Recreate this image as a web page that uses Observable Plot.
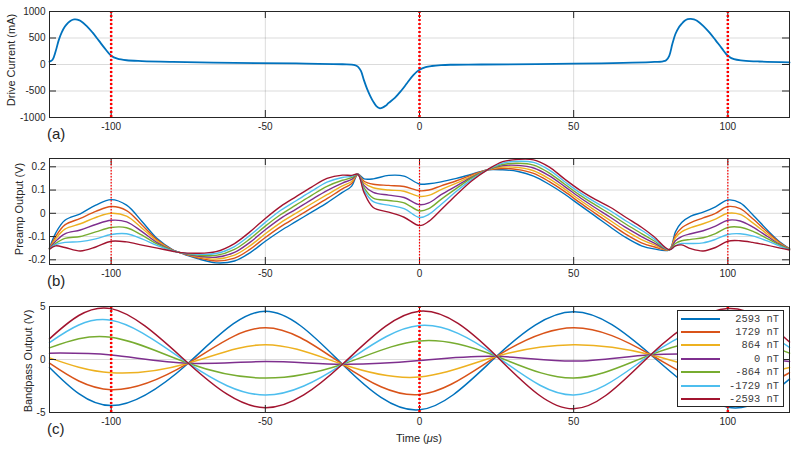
<!DOCTYPE html>
<html><head><meta charset="utf-8">
<script src="https://cdn.jsdelivr.net/npm/d3@7"></script>
<script src="https://cdn.jsdelivr.net/npm/@observablehq/plot@0.6"></script>
<style>
body{margin:0;background:#fff;}
#root{position:relative;width:798px;height:451px;overflow:hidden;background:#fff;font-family:"Liberation Sans",Arial,sans-serif;color:#262626;}
.panel{position:absolute;left:0;}
.ylab{position:absolute;font-size:11px;line-height:1;white-space:nowrap;transform:translate(-50%,-50%) rotate(-90deg);}
.plabel{position:absolute;font-size:15px;line-height:1;transform:translate(0,-50%);}
#xlab{position:absolute;left:419px;top:438px;font-size:11px;line-height:1;white-space:nowrap;transform:translate(-50%,-50%);}
#legend{position:absolute;left:677px;top:310px;width:105px;height:95px;border:1px solid #262626;background:#fff;}
.lrow-line{position:absolute;left:3px;width:39px;height:2px;}
.lrow-text{position:absolute;right:4px;font-family:"Liberation Mono","Courier New",monospace;font-size:10.4px;line-height:12px;color:#404040;white-space:pre;}
</style></head>
<body><div id="root"></div>
<script>
// ---------- shared ----------
const seriesLabels = ["2593 nT", "1729 nT", "864 nT", "0 nT", "-864 nT", "-1729 nT", "-2593 nT"];
const seriesColors = ["#0072BD", "#D95319", "#EDB120", "#7E2F8E", "#77AC30", "#4DBEEE", "#A2142F"];
const xTicks = [-100, -50, 0, 50, 100];
const markerTimes = [-100, 0, 100];

// ---------- panel (a): drive current (mA) ----------
const timeA = [-120,-119,-118,-117,-116,-115,-114,-113,-112,-111,-110,-108,-106,-104,-102,-100,-98,-95,-90,-80,-60,-40,-25,-21,-20,-19,-18,-17,-16,-15,-14,-13,-12,-11,-10,-8,-6,-4,-2,0,2,4,7,10,20,50,75,79,80,81,82,83,84,85,86,87,88,89,90,92,94,96,98,100,102,105,110,120];
const currentA = [55,90,250,460,610,715,785,830,850,848,825,730,600,450,300,165,110,80,65,50,30,20,5,-10,-40,-120,-300,-460,-590,-700,-785,-825,-815,-780,-725,-630,-500,-350,-200,-100,-50,-28,-12,-5,0,15,45,60,80,165,385,575,690,765,825,855,860,850,825,730,605,460,310,165,100,75,57,40];
const yTicksA = [-1000, -500, 0, 500, 1000];

// ---------- panel (b): preamp output (V) ----------
const timeB = [-120,-118,-115,-110,-105,-100,-95,-90,-85,-80,-78,-72,-66,-60,-55,-50,-45,-40,-35,-30,-25,-22,-20,-18,-15,-10,-5,0,3,7,12,17,22,27,32,37,42,47,52,57,62,67,72,76,81,83,85,88,92,96,100,104,108,113,117,120];
const preamp2593 = [-0.150,-0.085,-0.030,-0.002,0.035,0.059,0.035,-0.035,-0.110,-0.157,-0.168,-0.195,-0.213,-0.205,-0.170,-0.120,-0.075,-0.035,0.005,0.045,0.090,0.117,0.168,0.148,0.148,0.163,0.160,0.126,0.127,0.135,0.150,0.168,0.187,0.187,0.180,0.160,0.125,0.083,0.035,-0.012,-0.060,-0.105,-0.140,-0.153,-0.157,-0.080,-0.040,-0.012,0.005,0.028,0.057,0.045,-0.005,-0.075,-0.125,-0.152];
const preamp1729 = [-0.151,-0.100,-0.050,-0.022,0.008,0.029,0.012,-0.050,-0.115,-0.158,-0.168,-0.191,-0.205,-0.193,-0.155,-0.104,-0.057,-0.017,0.023,0.063,0.105,0.128,0.168,0.138,0.125,0.120,0.115,0.097,0.100,0.118,0.140,0.165,0.187,0.193,0.188,0.172,0.137,0.094,0.046,0.000,-0.046,-0.091,-0.127,-0.144,-0.157,-0.095,-0.063,-0.040,-0.020,0.000,0.029,0.020,-0.022,-0.083,-0.128,-0.153];
const preamp864 = [-0.152,-0.110,-0.068,-0.045,-0.018,0.000,-0.012,-0.064,-0.121,-0.159,-0.168,-0.187,-0.197,-0.180,-0.140,-0.088,-0.040,0.001,0.041,0.080,0.118,0.137,0.168,0.130,0.110,0.100,0.095,0.073,0.077,0.102,0.130,0.160,0.187,0.199,0.197,0.183,0.149,0.105,0.057,0.012,-0.032,-0.076,-0.113,-0.135,-0.157,-0.105,-0.080,-0.062,-0.045,-0.025,0.000,-0.005,-0.040,-0.092,-0.131,-0.154];
const preamp0 = [-0.152,-0.120,-0.088,-0.072,-0.048,-0.030,-0.037,-0.079,-0.127,-0.160,-0.168,-0.184,-0.189,-0.168,-0.125,-0.071,-0.022,0.018,0.059,0.098,0.130,0.146,0.168,0.120,0.090,0.078,0.068,0.037,0.045,0.080,0.118,0.156,0.187,0.205,0.206,0.195,0.162,0.116,0.068,0.024,-0.018,-0.062,-0.100,-0.127,-0.157,-0.118,-0.100,-0.088,-0.075,-0.055,-0.030,-0.033,-0.058,-0.101,-0.135,-0.155];
const preampM864 = [-0.153,-0.130,-0.108,-0.100,-0.080,-0.061,-0.062,-0.094,-0.133,-0.161,-0.168,-0.180,-0.181,-0.155,-0.110,-0.055,-0.005,0.036,0.077,0.116,0.142,0.153,0.168,0.110,0.065,0.055,0.045,0.010,0.020,0.060,0.107,0.152,0.187,0.210,0.215,0.207,0.174,0.126,0.078,0.036,-0.004,-0.047,-0.087,-0.118,-0.157,-0.130,-0.118,-0.112,-0.105,-0.087,-0.061,-0.060,-0.077,-0.110,-0.138,-0.156];
const preampM1729 = [-0.153,-0.135,-0.125,-0.122,-0.110,-0.091,-0.088,-0.110,-0.139,-0.162,-0.168,-0.176,-0.173,-0.143,-0.095,-0.039,0.013,0.054,0.095,0.134,0.154,0.159,0.168,0.100,0.050,0.035,0.020,-0.018,-0.005,0.038,0.095,0.146,0.187,0.216,0.224,0.219,0.187,0.137,0.089,0.048,0.010,-0.033,-0.073,-0.109,-0.157,-0.140,-0.130,-0.130,-0.127,-0.112,-0.091,-0.088,-0.097,-0.120,-0.142,-0.157];
const preampM2593 = [-0.154,-0.140,-0.147,-0.162,-0.145,-0.120,-0.123,-0.137,-0.150,-0.163,-0.168,-0.172,-0.165,-0.130,-0.080,-0.022,0.030,0.072,0.113,0.150,0.164,0.163,0.168,0.090,0.025,0.005,-0.017,-0.053,-0.035,0.015,0.080,0.140,0.187,0.222,0.232,0.230,0.200,0.148,0.100,0.060,0.025,-0.018,-0.060,-0.100,-0.157,-0.140,-0.136,-0.152,-0.162,-0.147,-0.120,-0.118,-0.125,-0.138,-0.150,-0.158];
const yTicksB = [-0.2, -0.1, 0, 0.1, 0.2];

// ---------- panel (c): bandpass output (V) ----------
const timeC = [-120, -100, -75, -50, -25, 0, 25, 50, 75, 100, 120];
const band2593 = [-0.75, -4.35, -0.35, 4.55, -0.45, -4.75, 0.30, 4.50, 0.45, -4.50, -1.85];
const band1729 = [-0.35, -2.85, -0.35, 3.00, -0.45, -3.30, 0.30, 3.00, 0.45, -2.95, -1.25];
const band864 = [0.15, -1.25, -0.35, 1.40, -0.45, -1.65, 0.30, 1.40, 0.45, -1.35, -0.75];
const band0 = [0.60, 0.42, -0.35, -0.20, -0.45, -0.10, 0.30, -0.15, 0.45, 0.35, -0.20];
const bandM864 = [1.10, 2.10, -0.35, -1.75, -0.45, 1.75, 0.30, -1.75, 0.45, 2.00, 0.60];
const bandM1729 = [1.60, 3.70, -0.35, -3.35, -0.45, 3.20, 0.30, -3.35, 0.45, 3.50, 1.15];
const bandM2593 = [1.95, 4.80, -0.35, -4.55, -0.45, 4.55, 0.30, -4.65, 0.45, 4.80, 1.65];
const yTicksC = [-5, 0, 5];

// ---------- build ----------
function longTable(times, arrays) {
  const rows = [];
  arrays.forEach((arr, i) => arr.forEach((v, j) => rows.push({t: times[j], v, s: seriesLabels[i]})));
  return rows;
}
const rowsA = timeA.map((t, i) => ({t, v: currentA[i]}));
const rowsB = longTable(timeB, [preamp2593, preamp1729, preamp864, preamp0, preampM864, preampM1729, preampM2593]);
const rowsC = longTable(timeC, [band2593, band1729, band864, band0, bandM864, bandM1729, bandM2593]);

const root = document.getElementById("root");
const ML = 49, MR = 9, W = 798;

function makePanel(o) {
  const plotW = W - ML - MR;
  const plotH = o.height - o.marginTop - o.marginBottom;
  const tl = 7;
  const ink = "#262626";
  const svg = Plot.plot({
    width: W, height: o.height,
    marginLeft: ML, marginRight: MR, marginTop: o.marginTop, marginBottom: o.marginBottom,
    style: {fontFamily: '"Liberation Sans", Arial, sans-serif', fontSize: "10px", color: ink, background: "transparent", overflow: "visible"},
    x: {domain: [-120, 120]},
    y: {domain: o.yDomain},
    color: {domain: seriesLabels, range: seriesColors},
    marks: [
      Plot.gridX(xTicks, {stroke: "#000", strokeOpacity: 0.14}),
      Plot.gridY(o.yGrid, {stroke: "#000", strokeOpacity: 0.14}),
      ...o.lines,
      Plot.tickX(xTicks, {x: d => d, stroke: ink, insetBottom: plotH - tl}),
      Plot.tickX(xTicks, {x: d => d, stroke: ink, insetTop: plotH - tl}),
      Plot.tickY(o.yTicks, {y: d => d, stroke: ink, insetRight: plotW - tl}),
      Plot.tickY(o.yTicks, {y: d => d, stroke: ink, insetLeft: plotW - tl}),
      Plot.ruleX(markerTimes, {stroke: "#ff0000", strokeWidth: o.dotWidth, strokeDasharray: o.dotDash}),
      Plot.frame({stroke: ink, strokeWidth: 1}),
      Plot.axisX(xTicks, {tickSize: 0, tickPadding: 5, tickFormat: d => String(d), label: null, fill: ink}),
      Plot.axisY(o.yTicks, {tickSize: 0, tickPadding: 4, tickFormat: d => String(d), label: null, fill: ink})
    ]
  });
  svg.classList.add("panel");
  svg.style.top = o.top + "px";
  root.appendChild(svg);
}

makePanel({
  top: 0, height: 140, marginTop: 11, marginBottom: 23,
  yDomain: [-1000, 1000], yTicks: yTicksA, yGrid: [-500, 0, 500],
  dotWidth: 2.5, dotDash: "2,2",
  lines: [Plot.line(rowsA, {x: "t", y: "v", stroke: "#0072BD", strokeWidth: 1.8, curve: "catmull-rom"})]
});
makePanel({
  top: 145, height: 140, marginTop: 13, marginBottom: 21,
  yDomain: [-0.2202, 0.2357], yTicks: yTicksB, yGrid: yTicksB,
  dotWidth: 1.2, dotDash: "1.5,1.5",
  lines: [Plot.line(rowsB, {x: "t", y: "v", z: "s", stroke: "s", strokeWidth: 1.4, curve: "catmull-rom"})]
});
makePanel({
  top: 295, height: 156, marginTop: 11, marginBottom: 39,
  yDomain: [-5, 5], yTicks: yTicksC, yGrid: [0],
  dotWidth: 2.5, dotDash: "2,2",
  lines: [Plot.line(rowsC, {x: "t", y: "v", z: "s", stroke: "s", strokeWidth: 1.5, curve: "natural"})]
});

// ---------- text ----------
function addDiv(cls, html, x, y, id) {
  const d = document.createElement("div");
  if (cls) d.className = cls;
  if (id) d.id = id;
  d.innerHTML = html;
  if (x != null) { d.style.left = x + "px"; d.style.top = y + "px"; }
  root.appendChild(d);
  return d;
}
addDiv("ylab", "Drive Current (mA)", 11, 60);
addDiv("ylab", "Preamp Output (V)", 19, 209);
addDiv("ylab", "Bandpass Output (V)", 28, 361);
addDiv("plabel", "(a)", 47, 133);
addDiv("plabel", "(b)", 47, 280);
addDiv("plabel", "(c)", 47, 428);
addDiv(null, "Time (<i>μ</i>s)", null, null, "xlab");

const legend = addDiv(null, "", null, null, "legend");
seriesLabels.forEach((lab, i) => {
  const c = 7.5 + 13.45 * i;
  const ln = document.createElement("div");
  ln.className = "lrow-line";
  ln.style.top = (c - 1) + "px";
  ln.style.background = seriesColors[i];
  legend.appendChild(ln);
  const tx = document.createElement("div");
  tx.className = "lrow-text";
  tx.style.top = (c - 6) + "px";
  tx.textContent = lab;
  legend.appendChild(tx);
});
</script>
</body></html>
